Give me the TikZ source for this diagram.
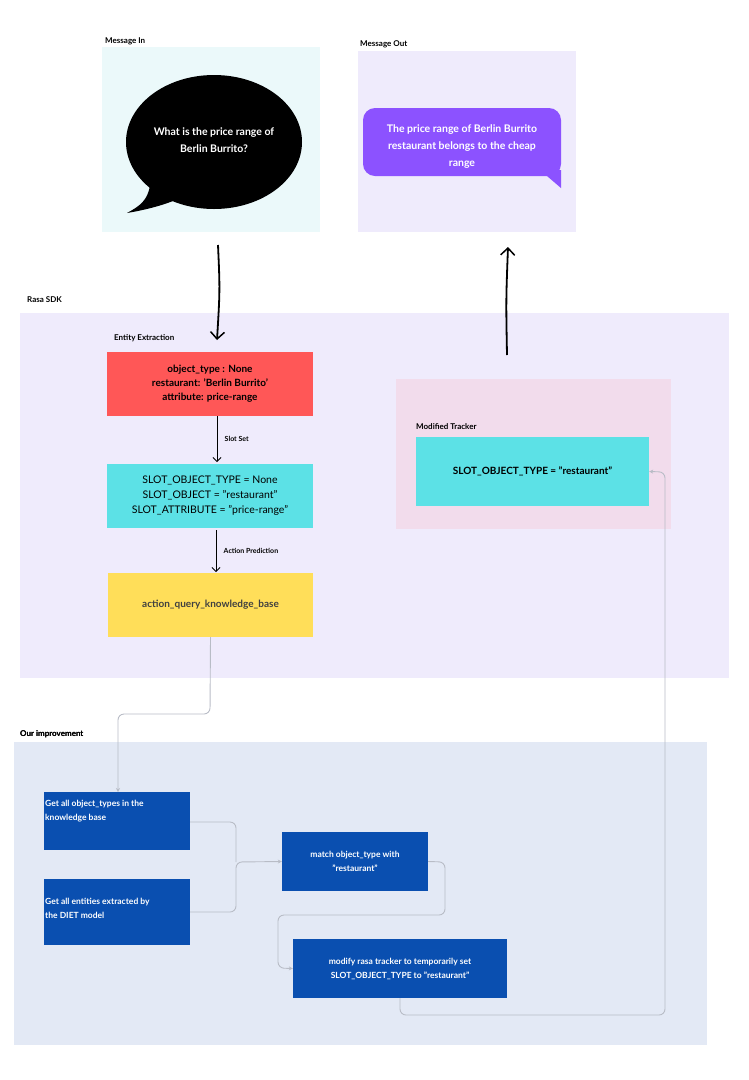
\documentclass[tikz,border=0pt]{standalone}
\usepackage{fontspec}
\setmainfont{Lato}
\usetikzlibrary{arrows.meta}
\definecolor{inbg}{HTML}{EBF9FA}
\definecolor{outbg}{HTML}{EFEBFC}
\definecolor{purp}{HTML}{8C52FF}
\definecolor{redb}{HTML}{FF5757}
\definecolor{cyanb}{HTML}{5CE1E6}
\definecolor{yelb}{HTML}{FFDE59}
\definecolor{pinkb}{HTML}{F2DCEC}
\definecolor{impbg}{HTML}{E3E9F5}
\definecolor{blueb}{HTML}{0A4FB0}
\definecolor{conn}{HTML}{B8BCC6}
\begin{document}
\begin{tikzpicture}[x=1pt,y=-1pt,
  lbl/.style={anchor=west,font=\fontsize{8}{9}\selectfont\bfseries,inner sep=0},
  box/.style={draw=none,minimum width=#1,align=center,inner sep=0},
  blue/.style={fill=blueb,text=white,font=\fontsize{8.5}{14}\selectfont\bfseries},
  gc/.style={draw=conn,line width=0.9pt,rounded corners=6pt},
  ga/.style={gc,-{Stealth[length=4pt,width=4pt]}},
  bk/.style={line width=1.8pt,-{Straight Barb[length=7pt,width=14pt,line width=1.5pt]}}]
\useasboundingbox (0,0) rectangle (748,1080);
% top boxes
\fill[inbg] (102,47) rectangle (320,232);
\node[lbl] (lin) at (105,41) {Message In};
\fill[black] (214,142) ellipse [x radius=88,y radius=67];
\fill[black] (150,185) .. controls (148,200) and (140,206) .. (127,213) .. controls (145,210) and (165,205) .. (180,198) -- cycle;
\node[text=white,align=center,font=\fontsize{10.5}{17}\selectfont\bfseries] (qin) at (214,140) {What is the price range of\\Berlin Burrito?};
\fill[outbg] (358,51) rectangle (576,232);
\node[lbl] (lout) at (360,44) {Message Out};
\fill[purp,rounded corners=12pt] (363,108) rectangle (561,176);
\fill[purp] (540,170) -- (561,170) -- (561,188) -- cycle;
\node[text=white,align=center,font=\fontsize{10.5}{17}\selectfont\bfseries] (qout) at (462,147) {The price range of Berlin Burrito\\restaurant belongs to the cheap\\range};
% Rasa SDK
\node[lbl] (lrasa) at (27,300) {Rasa SDK};
\fill[outbg] (20,313) rectangle (729,678);
\fill[pinkb] (396,379) rectangle (671,529);
\node[lbl] (lent) at (114,338) {Entity Extraction};
\node[box=206pt,minimum height=64pt,fill=redb,font=\fontsize{10}{14}\selectfont\bfseries] (ee) at (210,384) {object\_type : None\\restaurant: 'Berlin Burrito'\\attribute: price-range};
\node[box=206pt,minimum height=64pt,fill=cyanb,font=\fontsize{10.5}{15}\selectfont] (ss) at (210,496) {SLOT\_OBJECT\_TYPE = None\\SLOT\_OBJECT = "restaurant"\\SLOT\_ATTRIBUTE = "price-range"};
\node[box=205pt,minimum height=64pt,fill=yelb,text=black!75,font=\fontsize{10}{14}\selectfont\bfseries] (aq) at (210.5,605) {action\_query\_knowledge\_base};
\node[lbl] (lmod) at (416,427) {Modified Tracker};
\node[box=233pt,minimum height=69pt,fill=cyanb,font=\fontsize{10}{14}\selectfont\bfseries] (mt) at (532.5,471.5) {SLOT\_OBJECT\_TYPE = "restaurant"};
\draw[-{Straight Barb[length=4pt,width=8pt]},line width=0.8pt] (ee.south -| 217,0) -- node[right=4pt,font=\fontsize{7}{8}\selectfont\bfseries] (lss) {Slot Set} (217,462);
\draw[-{Straight Barb[length=4pt,width=8pt]},line width=0.8pt] (216,530) -- node[right=4pt,font=\fontsize{7}{8}\selectfont\bfseries] (lap) {Action Prediction} (216,572);
\coordinate (din) at (218,245);
\coordinate (dout) at (217,340);
\draw[bk] (din) .. controls (220,290) .. (dout);
\coordinate (uin) at (507,355);
\coordinate (uout) at (508,247);
\draw[bk] (uin) .. controls (506,300) .. (uout);
% improvement
\node[lbl] (limp) at (20,734) {Our improvement};
\fill[impbg] (14,742) rectangle (707,1045);
\node[lbl] at (20,734) {Our improvement};
\node[blue,box=146pt,minimum height=58pt] (a) at (117,821) {};
\node[blue,anchor=north west,align=left,inner sep=0] (at) at (45,800) {Get all object\_types in the\\knowledge base};
\node[blue,box=146pt,minimum height=66pt] (b) at (117,912) {};
\node[blue,anchor=north west,align=left,inner sep=0] (bt) at (45,898) {Get all entities extracted by\\the DIET model};
\node[blue,box=146pt,minimum height=59pt] (c) at (355,861.5) {match object\_type with\\"restaurant"};
\node[blue,box=214pt,minimum height=59pt] (d) at (400,968.5) {modify rasa tracker to temporarily set\\SLOT\_OBJECT\_TYPE to "restaurant"};
\draw[ga] (aq.south) -- (210,714) -- (118,714) -- (118,792);
\draw[gc] (a.east |- 0,822) -- (236,822) -- (236,862);
\draw[ga] (b.east |- 0,912) -- (236,912) -- (236,862) -- (c.west);
\draw[ga] (c.east) -- (445,862) -- (445,915) -- (278,915) -- (278,968) -- (d.west);
\draw[ga] (d.south) -- (400,1015) -- (665,1015) -- (665,472) -- (mt.east);
\end{tikzpicture}
\end{document}
